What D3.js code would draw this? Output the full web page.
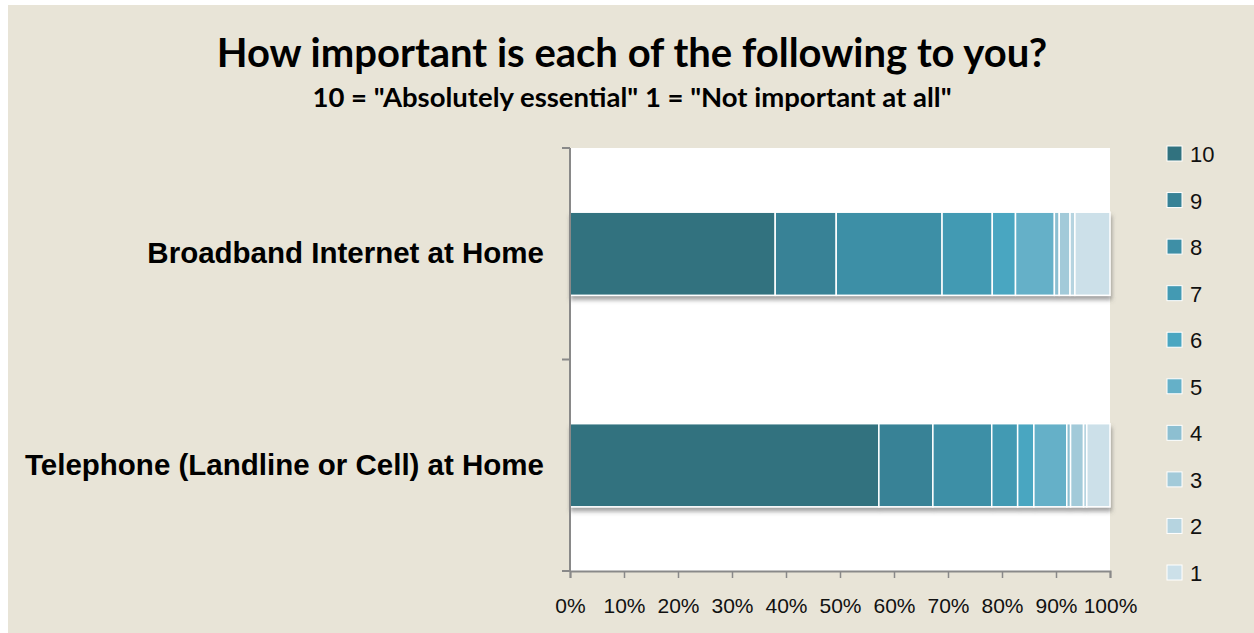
<!DOCTYPE html>
<html>
<head>
<meta charset="utf-8">
<script src="https://cdn.jsdelivr.net/npm/d3@7"></script>
<style>
  body { margin: 0; background: #ffffff; }
  svg { display: block; }
</style>
</head>
<body>
<div id="chart"></div>
<script>
// categories (top to bottom) and share of answers per rating
const categories = ["Broadband Internet at Home", "Telephone (Landline or Cell) at Home"];
const ratings = ["10", "9", "8", "7", "6", "5", "4", "3", "2", "1"];
const broadband = [0.380, 0.113, 0.196, 0.093, 0.043, 0.072, 0.009, 0.020, 0.009, 0.065];
const telephone = [0.572, 0.100, 0.109, 0.048, 0.030, 0.061, 0.007, 0.024, 0.006, 0.043];
const xTicks = [0, 0.1, 0.2, 0.3, 0.4, 0.5, 0.6, 0.7, 0.8, 0.9, 1];
const colors = ["#31727f", "#378296", "#3e8fa6", "#439ab3", "#4aa6c1",
                "#65b0c8", "#8dbfd1", "#a2cad9", "#b6d4e0", "#cce0e9"];

const seriesValues = [broadband, telephone];

const W = 1254, H = 633;
const margin = {top: 148, right: 144, bottom: 63, left: 570};

const svg = d3.select("#chart").append("svg")
    .attr("width", W)
    .attr("height", H);

// background panel
svg.append("rect")
    .attr("x", 8).attr("y", 5)
    .attr("width", W - 8).attr("height", H - 5)
    .attr("fill", "#e8e4d7");

const defs = svg.append("defs");
const shadow = defs.append("filter")
    .attr("id", "shadow")
    .attr("x", "-5%").attr("y", "-10%")
    .attr("width", "115%").attr("height", "130%");
shadow.append("feDropShadow")
    .attr("dx", 1).attr("dy", 4)
    .attr("stdDeviation", 2)
    .attr("flood-color", "#555")
    .attr("flood-opacity", 0.55);

// title
svg.append("text")
    .attr("x", 632).attr("y", 67)
    .attr("text-anchor", "middle")
    .style("font-family", "Lato, 'Open Sans', sans-serif")
    .style("font-weight", "bold")
    .style("font-size", "40px")
    .text("How important is each of the following to you?");

svg.append("text")
    .attr("x", 632).attr("y", 107)
    .attr("text-anchor", "middle")
    .style("font-family", "Lato, 'Open Sans', sans-serif")
    .style("font-weight", "bold")
    .style("font-size", "27.5px")
    .text('10 = "Absolutely essential" 1 = "Not important at all"');

// scales
const x = d3.scaleLinear()
    .domain([0, 1])
    .range([margin.left, W - margin.right]);

const y = d3.scaleBand()
    .domain(categories)
    .range([margin.top, H - margin.bottom + 1])
    .paddingInner(0.607)
    .paddingOuter(0.3035);

// plot area
svg.append("rect")
    .attr("x", x(0)).attr("y", y.range()[0])
    .attr("width", x(1) - x(0))
    .attr("height", y.range()[1] - y.range()[0])
    .attr("fill", "#ffffff");

// stack the data
const rows = categories.map((c, i) => {
    let row = {category: c};
    ratings.forEach((r, j) => { row[r] = seriesValues[i][j]; });
    return row;
});
const stacked = d3.stack().keys(ratings)(rows);

const bars = svg.append("g")
    .attr("class", "bars")
    .attr("filter", "url(#shadow)");

bars.selectAll("g")
    .data(stacked)
    .join("g")
    .attr("fill", (d, i) => colors[i])
    .selectAll("rect")
    .data(d => d)
    .join("rect")
    .attr("x", d => x(d[0]))
    .attr("y", d => y(d.data.category))
    .attr("width", d => x(d[1]) - x(d[0]))
    .attr("height", y.bandwidth())
    .attr("stroke", "#ffffff")
    .attr("stroke-width", 1.5);

// x axis
const xAxis = svg.append("g")
    .attr("class", "x-axis")
    .attr("transform", `translate(0, ${y.range()[1]})`)
    .call(d3.axisBottom(x)
        .tickValues(xTicks)
        .tickSize(7)
        .tickPadding(20)
        .tickFormat(d3.format(".0%")));

xAxis.select(".domain").attr("stroke", "#898989").attr("stroke-width", 2);
xAxis.selectAll(".tick line").attr("stroke", "#898989").attr("stroke-width", 1.5);
xAxis.selectAll("text")
    .style("font-family", "'Liberation Sans', Arial, sans-serif")
    .style("font-size", "21px")
    .attr("fill", "#111");

// y axis: category labels
const yAxis = svg.append("g")
    .attr("class", "y-axis")
    .attr("transform", `translate(${x(0)}, 0)`)
    .call(d3.axisLeft(y).tickSize(0).tickPadding(26));

yAxis.select(".domain").remove();
yAxis.selectAll("text")
    .style("font-family", "'Liberation Sans', Arial, sans-serif")
    .style("font-weight", "bold")
    .style("font-size", "29.5px")
    .attr("fill", "#000");

// y axis line with ticks between categories
const yBounds = d3.range(categories.length + 1).map(i => y.range()[0] + i * y.step());
svg.append("line")
    .attr("x1", x(0)).attr("x2", x(0))
    .attr("y1", y.range()[0]).attr("y2", y.range()[1])
    .attr("stroke", "#898989").attr("stroke-width", 2);
svg.selectAll(".ytick")
    .data(yBounds)
    .join("line")
    .attr("class", "ytick")
    .attr("x1", x(0) - 8).attr("x2", x(0))
    .attr("y1", d => d).attr("y2", d => d)
    .attr("stroke", "#898989").attr("stroke-width", 2);

// legend
const legendY = d3.scalePoint()
    .domain(ratings)
    .range([154, 573]);

const legend = svg.append("g").attr("class", "legend");
const items = legend.selectAll("g")
    .data(ratings)
    .join("g")
    .attr("transform", d => `translate(1167, ${legendY(d)})`);

items.append("rect")
    .attr("x", 0).attr("y", -8)
    .attr("width", 15).attr("height", 15)
    .attr("fill", (d, i) => colors[i])
    .attr("stroke", "#ffffff")
    .attr("stroke-width", 1);

items.append("text")
    .attr("x", 23).attr("y", 8)
    .style("font-family", "'Liberation Sans', Arial, sans-serif")
    .style("font-size", "22px")
    .attr("fill", "#111")
    .text(d => d);
</script>
</body>
</html>
